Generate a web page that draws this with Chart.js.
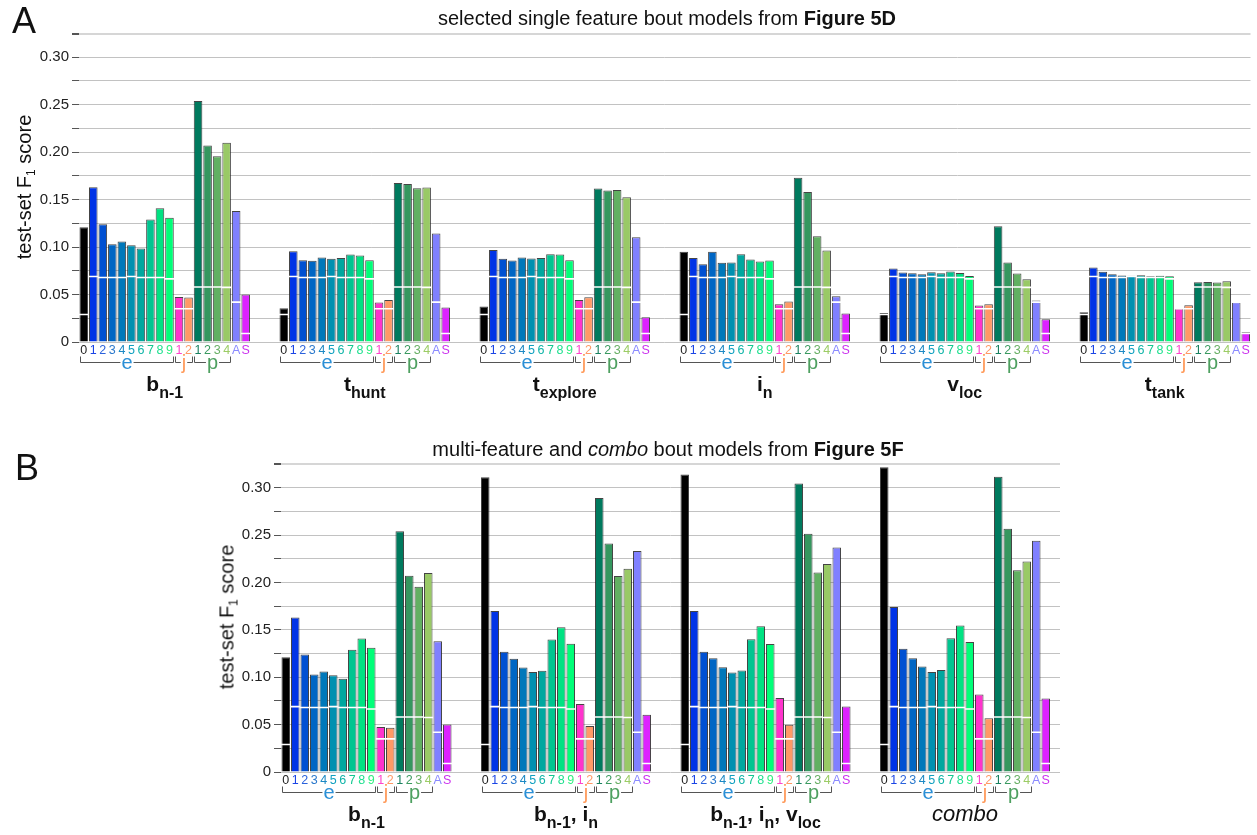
<!DOCTYPE html>
<html><head><meta charset="utf-8">
<script src="https://cdn.jsdelivr.net/npm/chart.js@4.4.1/dist/chart.umd.min.js"></script>
<style>
body{margin:0;background:#fff;width:1257px;height:835px;overflow:hidden;position:relative;font-family:"Liberation Sans",Arial,sans-serif;color:#111;}
canvas{position:absolute;left:0;}
#ca{top:0;}
#cb{top:420px;}
.letter{position:absolute;font-size:36px;line-height:1;}
.title{position:absolute;font-size:20px;line-height:1;white-space:nowrap;transform:translateX(-50%);}
.ytitle{position:absolute;font-size:20px;line-height:1;white-space:nowrap;transform:translate(-50%,-50%) rotate(-90deg);}
.ytitle sub{font-size:12px;vertical-align:-4px;}
</style></head>
<body>
<canvas id="ca" width="1257" height="420"></canvas>
<canvas id="cb" width="1257" height="415"></canvas>
<div class="letter" style="left:12px;top:3px;">A</div>
<div class="letter" style="left:15px;top:450px;">B</div>
<div class="title" style="left:667px;top:8px;">selected single feature bout models from <b>Figure 5D</b></div>
<div class="title" style="left:668px;top:439px;">multi-feature and <i>combo</i> bout models from <b>Figure 5F</b></div>
<div class="ytitle" style="left:25px;top:187px;">test-set F<sub>1</sub> score</div>
<div class="ytitle" style="left:228px;top:617px;">test-set F<sub>1</sub> score</div>
<script>
const FF = '"Liberation Sans", Arial, sans-serif';
Chart.defaults.font.family = FF;

// ---- categories (one group of bars) ----
const categories = ['0','1','2','3','4','5','6','7','8','9','1','2','1','2','3','4','A','S'];
const barColors = ['#000000','#0033e6','#0050d2','#0066c4','#0078ba','#0090b0','#00a79f','#00c590','#00e282','#00ff78',
  '#ff33cc','#ff9966','#007a5e','#35975f','#62b062','#99c966','#8080ff','#dd22ff'];
const labelColors = ['#222222','#1a44e6','#2a62dc','#2a78cc','#1a88c4','#10a0c0','#10b4a8','#10c890','#20e090','#30f080',
  '#ff44cc','#ff9966','#1a8060','#3a9a60','#6ab066','#9ccc66','#8a8aff','#cc33ee'];
// chance-level (white line) per category
const chance = [0.029,0.069,0.068,0.068,0.068,0.069,0.068,0.068,0.068,0.0665,0.035,0.035,0.058,0.058,0.058,0.0575,0.042,0.009];

// bracket groups under the tick labels (indices within a group)
const bracketNames = ['e','j','p'];
const bracketFrom = [0,10,12];
const bracketTo = [9,11,15];
const bracketColors = ['#2a8fd6','#ff9a5a','#4ea060'];

// ---- panel A series ----
const bn1 = [0.121,0.163,0.124,0.103,0.106,0.102,0.0985,0.129,0.141,0.131,0.0475,0.0468,0.254,0.207,0.1956,0.210,0.138,0.050];
const thunt = [0.0355,0.0957,0.0862,0.0855,0.089,0.0876,0.0886,0.0922,0.0911,0.0862,0.0415,0.0443,0.1674,0.1664,0.1621,0.1628,0.1143,0.0363];
const texplore = [0.0373,0.097,0.0876,0.0858,0.089,0.088,0.0886,0.0925,0.0922,0.0862,0.0443,0.0471,0.1618,0.1597,0.160,0.1526,0.1104,0.026];
const inSeries = [0.095,0.0886,0.082,0.095,0.0834,0.0837,0.0925,0.0869,0.0848,0.0858,0.0398,0.0426,0.173,0.158,0.1115,0.0964,0.0482,0.030];
const vloc = [0.0306,0.0774,0.0732,0.0725,0.0714,0.0735,0.0725,0.0742,0.0728,0.0696,0.0384,0.0398,0.122,0.0837,0.0721,0.0661,0.0437,0.024];
const ttank = [0.0313,0.0785,0.0739,0.0714,0.070,0.0697,0.0704,0.0693,0.0697,0.0693,0.0352,0.0387,0.063,0.0633,0.0627,0.064,0.0419,0.0102];

// ---- panel B series ----
const bn1_in = [0.311,0.170,0.1268,0.1194,0.1103,0.1054,0.1068,0.1398,0.1528,0.1352,0.0717,0.0485,0.289,0.241,0.2069,0.2146,0.2332,0.0604];
const bn1_in_vloc = [0.314,0.170,0.127,0.120,0.1106,0.105,0.107,0.140,0.1538,0.135,0.078,0.0499,0.3045,0.2515,0.2104,0.2195,0.2368,0.0692];
const combo = [0.3217,0.1742,0.130,0.1201,0.1114,0.1054,0.1075,0.1412,0.1546,0.1373,0.0819,0.0566,0.3116,0.2568,0.2129,0.222,0.2441,0.0776];

// group titles: [text, kind] kind 0 = bold, 1 = bold subscript, 2 = italic
const titlesA = [
  [['b',0],['n-1',1]], [['t',0],['hunt',1]], [['t',0],['explore',1]],
  [['i',0],['n',1]], [['v',0],['loc',1]], [['t',0],['tank',1]]
];
const titlesB = [
  [['b',0],['n-1',1]],
  [['b',0],['n-1',1],[', i',0],['n',1]],
  [['b',0],['n-1',1],[', i',0],['n',1],[', v',0],['loc',1]],
  [['combo',2]]
];

// y axis
const yGridValues = [0,0.025,0.05,0.075,0.1,0.125,0.15,0.175,0.2,0.225,0.25,0.275,0.3,0.325];
const yTickValues = [0,0.05,0.1,0.15,0.2,0.25,0.3];
const yTickLabels = ['0','0.05','0.10','0.15','0.20','0.25','0.30'];

const GAP = 3;

function drawTitle(ctx, segs, cx, baseY){
  const fonts = {0:'bold 21px '+FF, 1:'bold 16px '+FF, 2:'italic 22px '+FF};
  let total = 0;
  segs.forEach(s=>{ctx.font=fonts[s[1]]; total += ctx.measureText(s[0]).width;});
  let x = cx - total/2;
  ctx.fillStyle = '#111';
  ctx.textAlign = 'left';
  ctx.textBaseline = 'alphabetic';
  segs.forEach(s=>{ctx.font=fonts[s[1]]; ctx.fillText(s[0], x, baseY + (s[1]===1?7:0)); x += ctx.measureText(s[0]).width;});
}

function makeChart(id, seriesList, titles, cfg){
  const labels=[], data=[], colors=[], chanceData=[], tickCols=[];
  const starts=[];
  seriesList.forEach((ser,g)=>{
    if(g>0){ for(let k=0;k<GAP;k++){labels.push('');data.push(null);colors.push('transparent');chanceData.push(null);tickCols.push('#000');} }
    starts.push(labels.length);
    categories.forEach((c,i)=>{labels.push(c);data.push(ser[i]);colors.push(barColors[i]);chanceData.push(chance[i]);tickCols.push(labelColors[i]);});
  });
  for(let k=0;k<cfg.extra;k++){labels.push('');data.push(null);colors.push('transparent');chanceData.push(null);tickCols.push('#000');}

  const deco = {
    id:'deco',
    afterDraw(chart){
      const ctx = chart.ctx, xs = chart.scales.x, area = chart.chartArea;
      const step = xs.getPixelForValue(1) - xs.getPixelForValue(0);
      const lineY = Math.round(area.bottom + 20) + 0.5;
      ctx.save();
      starts.forEach((s,g)=>{
        bracketNames.forEach((nm,b)=>{
          const x0 = Math.round(xs.getPixelForValue(s+bracketFrom[b]) - step/2 + 1) + 0.5;
          const x1 = Math.round(xs.getPixelForValue(s+bracketTo[b]) + step/2 - 1) + 0.5;
          ctx.font = '20px '+FF;
          const w = ctx.measureText(nm).width;
          const cx = (x0+x1)/2;
          ctx.strokeStyle = '#555'; ctx.lineWidth = 1;
          ctx.beginPath();
          ctx.moveTo(x0, lineY-6); ctx.lineTo(x0, lineY); ctx.lineTo(cx - w/2 - 1, lineY);
          ctx.moveTo(cx + w/2 + 1, lineY); ctx.lineTo(x1, lineY); ctx.lineTo(x1, lineY-6);
          ctx.stroke();
          ctx.fillStyle = bracketColors[b];
          ctx.textAlign = 'center'; ctx.textBaseline = 'alphabetic';
          ctx.fillText(nm, cx, lineY + 6);
        });
        const cx = (xs.getPixelForValue(s) + xs.getPixelForValue(s+categories.length-1))/2;
        drawTitle(ctx, titles[g], cx, area.bottom + 49);
      });
      ctx.restore();
    }
  };

  return new Chart(document.getElementById(id), {
    data:{
      labels,
      datasets:[
        {type:'line', data:chanceData, showLine:false, pointStyle:'line', pointRadius:4.9, pointHoverRadius:4.9,
         pointBorderColor:'#ffffff', pointBorderWidth:1.6, pointBackgroundColor:'#ffffff', order:0},
        {type:'bar', data, backgroundColor:colors, borderColor:'rgba(35,35,35,0.85)', borderWidth:1,
         barPercentage:0.9, categoryPercentage:1.0, order:1}
      ]
    },
    options:{
      responsive:false, animation:false, events:[],
      layout:{padding:{top:cfg.top, right:cfg.right, left:0, bottom:0}},
      plugins:{legend:{display:false}, tooltip:{enabled:false}},
      scales:{
        x:{type:'category', offset:true,
           grid:{display:false, drawTicks:false}, border:{display:false},
           ticks:{autoSkip:false, maxRotation:0, minRotation:0, padding:1, font:{size:12.5}, color:(c)=>tickCols[c.index]},
           afterFit:(s)=>{s.height = cfg.xh;}},
        y:{min:0, max:0.325,
           afterBuildTicks:(s)=>{s.ticks = yGridValues.map(v=>({value:v}));},
           ticks:{font:{size:15}, color:'#222', padding:3,
             callback:(v)=>{const i=yTickValues.findIndex(t=>Math.abs(t-v)<1e-9); return i>=0?yTickLabels[i]:'';}},
           grid:{color:(c)=> (c.tick && c.tick.value>0.32) ? '#d6d6d6' : '#c2c2c2',
                 lineWidth:(c)=> (c.tick && c.tick.value>0.32) ? 2 : 1,
                 tickLength:7, tickColor:'#555', drawTicks:true},
           border:{display:false},
           afterFit:(s)=>{s.width = cfg.yw;}}
      }
    },
    plugins:[deco]
  });
}

makeChart('ca', [bn1, thunt, texplore, inSeries, vloc, ttank], titlesA, {top:33.5, right:5, xh:78, yw:79, extra:0});
makeChart('cb', [bn1, bn1_in, bn1_in_vloc, combo], titlesB, {top:44, right:197, xh:63, yw:281, extra:1});
</script>
</body></html>
